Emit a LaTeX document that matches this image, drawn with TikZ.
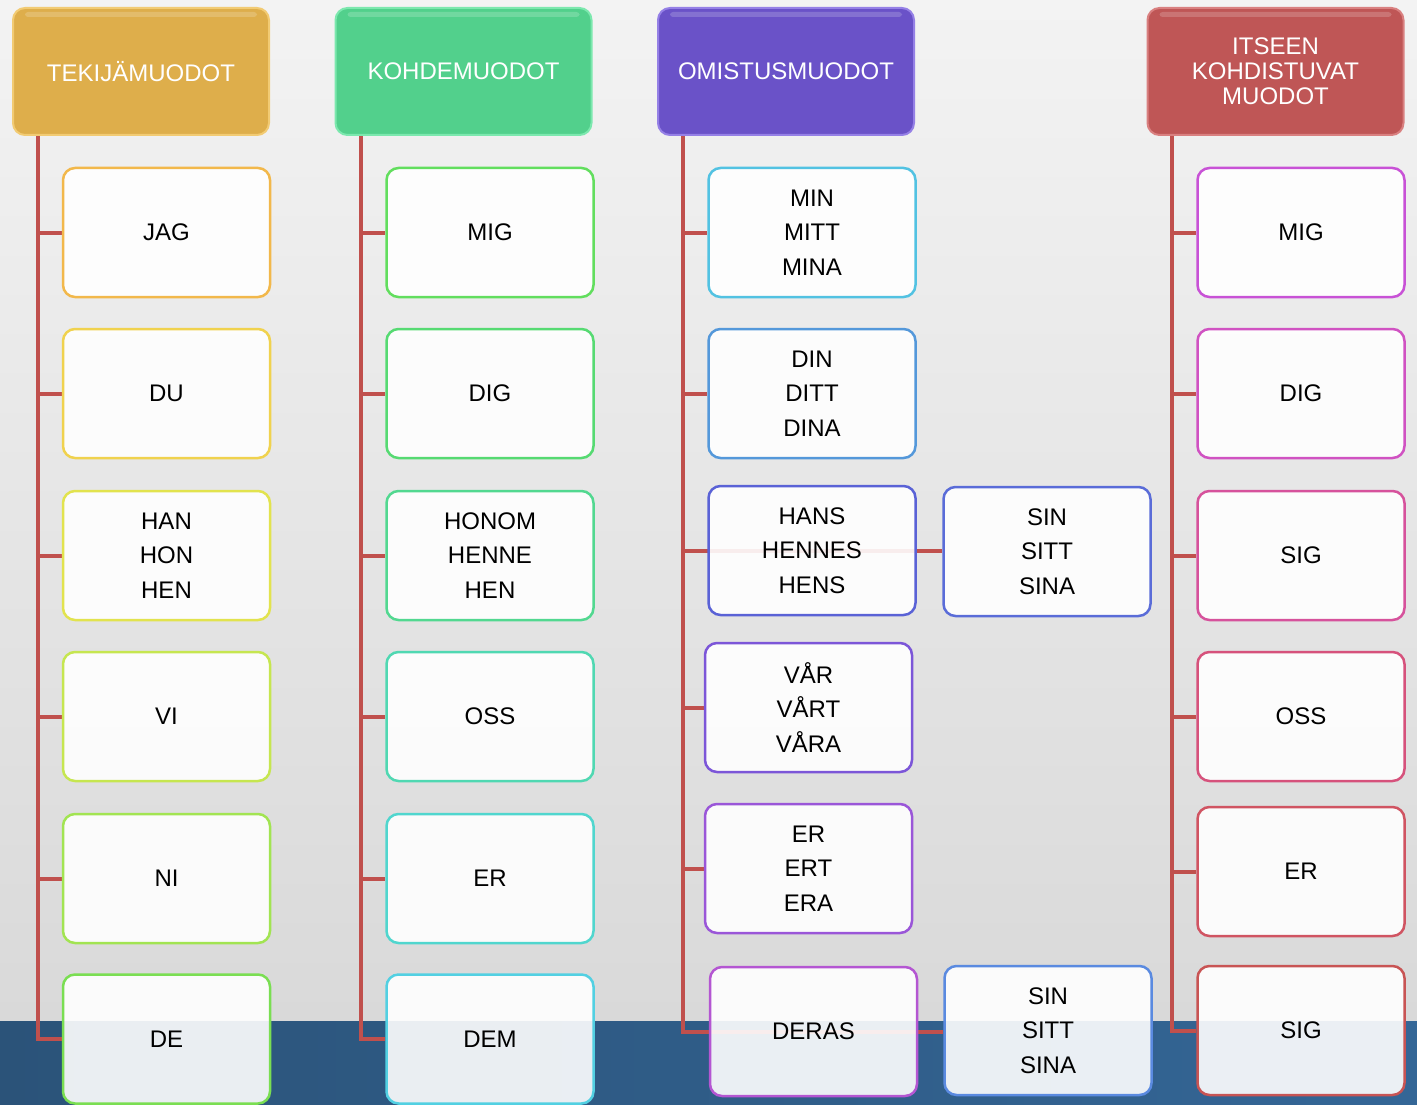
\documentclass[tikz,border=0pt]{standalone}
\usepackage{fontspec}
\setmainfont{Liberation Sans}
\definecolor{conn}{HTML}{C0504D}
\definecolor{bandL}{HTML}{2B5379}
\definecolor{bandR}{HTML}{346696}
\definecolor{bgT}{HTML}{F3F3F3}
\definecolor{bgB}{HTML}{D9D9D9}
\definecolor{hGold}{HTML}{DEAE4B}\definecolor{hGoldE}{HTML}{F2CB73}
\definecolor{hGreen}{HTML}{52D08C}\definecolor{hGreenE}{HTML}{7CE8AE}
\definecolor{hPurp}{HTML}{6A52C8}\definecolor{hPurpE}{HTML}{9580E6}
\definecolor{hRed}{HTML}{BF5656}\definecolor{hRedE}{HTML}{D98080}
% child borders
\definecolor{a1}{HTML}{F2B84B}\definecolor{a2}{HTML}{F0D24E}\definecolor{a3}{HTML}{E2E34E}
\definecolor{a4}{HTML}{C6E650}\definecolor{a5}{HTML}{A2E452}\definecolor{a6}{HTML}{7ADE52}
\definecolor{b1}{HTML}{62DE5E}\definecolor{b2}{HTML}{56DA72}\definecolor{b3}{HTML}{52D890}
\definecolor{b4}{HTML}{50D8B2}\definecolor{b5}{HTML}{50D6CE}\definecolor{b6}{HTML}{52D0E2}
\definecolor{c1}{HTML}{52C2E2}\definecolor{c2}{HTML}{5498DA}\definecolor{c3}{HTML}{5A62D6}
\definecolor{c4}{HTML}{7C56D8}\definecolor{c5}{HTML}{9A56D8}\definecolor{c6}{HTML}{B456D2}
\definecolor{s1}{HTML}{5A6CD8}\definecolor{s2}{HTML}{5A8AE0}
\definecolor{d1}{HTML}{C852D6}\definecolor{d2}{HTML}{D052C2}\definecolor{d3}{HTML}{D6529C}
\definecolor{d4}{HTML}{D6527C}\definecolor{d5}{HTML}{D05462}\definecolor{d6}{HTML}{C85454}
\pgfdeclarelayer{bg}\pgfdeclarelayer{lines}
\pgfsetlayers{bg,lines,main}
\tikzset{
  x=1pt, y=-1pt,
  header/.style n args={2}{draw=#2, fill=#1, line width=2pt, rounded corners=12pt,
    minimum width=256pt, minimum height=127pt, text=white, align=center,
    font=\fontsize{24}{25}\selectfont,
    path picture={\fill[white,opacity=0.18, rounded corners=3pt] ([xshift=12pt,yshift=-4pt]path picture bounding box.north west) rectangle ([xshift=-12pt,yshift=-9pt]path picture bounding box.north east);}},
  child/.style={draw=#1, fill=white, fill opacity=0.9, text opacity=1, line width=2.5pt,
    rounded corners=12pt, minimum width=207pt, minimum height=129pt, align=center,
    font=\fontsize{24}{34.5}\selectfont},
  link/.style={draw=conn, line width=4pt}
}
\begin{document}
\begin{tikzpicture}
\begin{pgfonlayer}{bg}
\shade[top color=bgT, bottom color=bgB] (0,0) rectangle (1417,1021);
\shade[left color=bandL, right color=bandR] (0,1021) rectangle (1417,1105);
\end{pgfonlayer}
\useasboundingbox (0,0) rectangle (1417,1105);

% headers
\node[header={hGold}{hGoldE}]  (h1) at (141,71.5)  {TEKIJÄMUODOT};
\node[header={hGreen}{hGreenE}] (h2) at (463.5,71.5) {KOHDEMUODOT};
\node[header={hPurp}{hPurpE}]  (h3) at (786,71.5)  {OMISTUSMUODOT};
\node[header={hRed}{hRedE}]    (h4) at (1275.5,71.5) {ITSEEN\\KOHDISTUVAT\\MUODOT};

% spine coordinates
\coordinate (v1) at ([xshift=26pt]h1.south west);
\coordinate (v2) at ([xshift=26pt]h2.south west);
\coordinate (v3) at ([xshift=26pt]h3.south west);
\coordinate (v4) at ([xshift=25pt]h4.south west);

% column 1
\node[child=a1] (n11) at (166.5,232.5) {JAG};
\node[child=a2] (n12) at (166.5,393.5) {DU};
\node[child=a3] (n13) at (166.5,555.5) {HAN\\HON\\HEN};
\node[child=a4] (n14) at (166.5,716.5) {VI};
\node[child=a5] (n15) at (166.5,878.5) {NI};
\node[child=a6] (n16) at (166.5,1039) {DE};
% column 2
\node[child=b1] (n21) at (490,232.5) {MIG};
\node[child=b2] (n22) at (490,393.5) {DIG};
\node[child=b3] (n23) at (490,555.5) {HONOM\\HENNE\\HEN};
\node[child=b4] (n24) at (490,716.5) {OSS};
\node[child=b5] (n25) at (490,878.5) {ER};
\node[child=b6] (n26) at (490,1039) {DEM};
% column 3
\node[child=c1] (n31) at (812,232.5) {MIN\\MITT\\MINA};
\node[child=c2] (n32) at (812,393.5) {DIN\\DITT\\DINA};
\node[child=c3] (n33) at (812,550.5) {HANS\\HENNES\\HENS};
\node[child=c4] (n34) at (808.5,707.5) {VÅR\\VÅRT\\VÅRA};
\node[child=c5] (n35) at (808.5,868.5) {ER\\ERT\\ERA};
\node[child=c6] (n36) at (813.5,1031.5) {DERAS};
\node[child=s1] (ns1) at (1047,551.5) {SIN\\SITT\\SINA};
\node[child=s2] (ns2) at (1048,1030.5) {SIN\\SITT\\SINA};
% column 4
\node[child=d1] (n41) at (1301,232.5) {MIG};
\node[child=d2] (n42) at (1301,393.5) {DIG};
\node[child=d3] (n43) at (1301,555.5) {SIG};
\node[child=d4] (n44) at (1301,716.5) {OSS};
\node[child=d5] (n45) at (1301,871.5) {ER};
\node[child=d6] (n46) at (1301,1030.5) {SIG};

% links (behind boxes)
\begin{pgfonlayer}{lines}
\foreach \c in {1,2,4}{
  \foreach \r in {1,...,6}{
    \draw[link] (v\c) |- (n\c\r.west);
  }
}
\foreach \r in {1,2,4,5}{
  \draw[link] (v3) |- (n3\r.west);
}
\draw[link] (v3) |- (n33.center) -- (n33.center -| ns1.west);
\draw[link] (v3) |- (n36.center) -- (n36.center -| ns2.west);
\end{pgfonlayer}
\end{tikzpicture}
\end{document}
